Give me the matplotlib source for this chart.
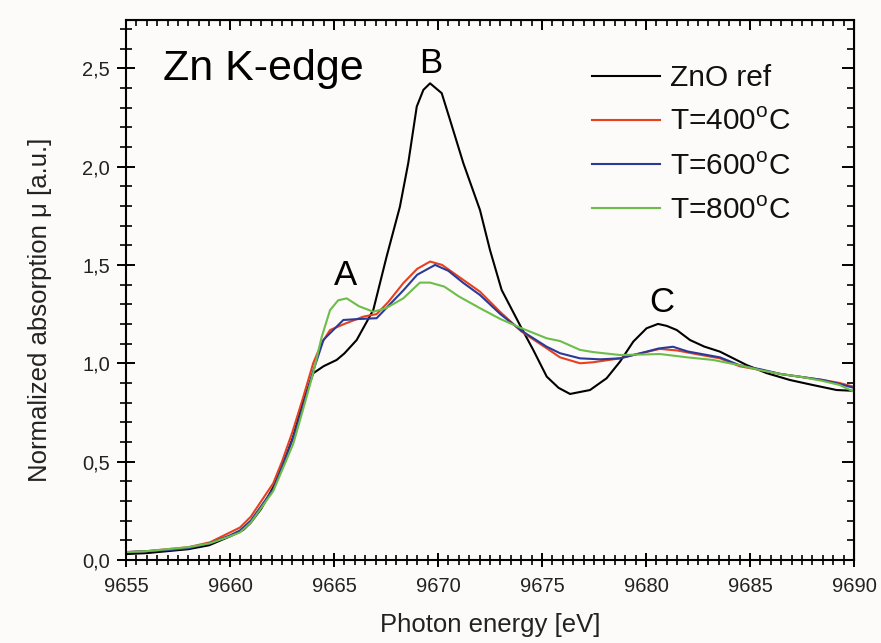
import matplotlib
matplotlib.use("Agg")
import matplotlib.pyplot as plt
from matplotlib.ticker import MultipleLocator, FuncFormatter

plt.rcParams['font.family'] = ['Liberation Sans', 'DejaVu Sans']
plt.rcParams['mathtext.fontset'] = 'custom'
plt.rcParams['mathtext.rm'] = 'Liberation Sans'

# values
e_ref = [9655, 9656, 9657, 9658, 9659, 9660, 9660.64, 9661, 9661.5, 9662.08, 9662.5, 9663.04,
         9663.5, 9664.0, 9664.5, 9665.13, 9665.5, 9666.09, 9666.89, 9667.53, 9668.17, 9668.57,
         9668.98, 9669.3, 9669.62, 9670.18, 9670.58, 9671.22, 9672.02, 9672.5, 9673.06, 9674.02,
         9674.58, 9675.23, 9675.8, 9676.35, 9677.31, 9678.11, 9678.75, 9679.39, 9680.03, 9680.58,
         9681.0, 9681.48, 9682.12, 9682.8, 9683.56, 9684.2, 9684.84, 9685.8, 9686.92, 9688.0,
         9689.17, 9690]
mu_ref = [0.03, 0.035, 0.045, 0.055, 0.075, 0.12, 0.153, 0.19, 0.26, 0.37, 0.47, 0.627,
          0.80, 0.949, 0.985, 1.017, 1.05, 1.118, 1.271, 1.542, 1.796, 2.017,
          2.305, 2.39, 2.423, 2.373, 2.237, 2.017, 1.779, 1.576, 1.373, 1.178,
          1.068, 0.932, 0.875, 0.844, 0.864, 0.924, 1.008, 1.11, 1.178, 1.20,
          1.19, 1.169, 1.118, 1.085, 1.059, 1.025, 0.991, 0.95, 0.915, 0.89,
          0.864, 0.86]

e_400 = [9655, 9656, 9657, 9658, 9659.04, 9660, 9660.48, 9661, 9662.08, 9662.5, 9663, 9663.5,
         9664.0, 9664.4, 9664.81, 9665.5, 9666.41, 9667.05, 9667.6, 9668.33, 9669.0, 9669.62,
         9670.2, 9671.0, 9672.02, 9673.0, 9674.02, 9675.23, 9675.87, 9676.83, 9677.45, 9678.75,
         9679.5, 9680.67, 9681.5, 9682.5, 9683.56, 9684.5, 9685.48, 9686.5, 9687.5, 9688.5,
         9689.3, 9690]
mu_400 = [0.04, 0.045, 0.055, 0.065, 0.09, 0.14, 0.165, 0.22, 0.39, 0.5, 0.65, 0.82,
          1.0, 1.1, 1.169, 1.2, 1.237, 1.25, 1.31, 1.407, 1.48, 1.517,
          1.50, 1.44, 1.364, 1.26, 1.161, 1.076, 1.03, 1.0, 1.005, 1.025,
          1.045, 1.073, 1.065, 1.045, 1.025, 0.985, 0.966, 0.945, 0.93, 0.915,
          0.90, 0.88]

e_600 = [9655, 9656, 9657, 9658, 9659.04, 9660, 9660.48, 9661, 9662.08, 9663, 9663.5, 9664.0,
         9664.5, 9665.45, 9666.2, 9667.05, 9667.6, 9668.33, 9669.0, 9669.86, 9670.5, 9671.2,
         9672.02, 9673.0, 9674.02, 9675.23, 9675.87, 9676.83, 9677.8, 9678.75, 9679.7, 9680.6,
         9681.3, 9682.0, 9683.56, 9684.5, 9685.48, 9686.5, 9687.5, 9688.5, 9689.3, 9690]
mu_600 = [0.04, 0.045, 0.05, 0.06, 0.085, 0.125, 0.15, 0.2, 0.36, 0.61, 0.78, 0.96,
          1.12, 1.22, 1.225, 1.229, 1.29, 1.37, 1.45, 1.50, 1.47, 1.41,
          1.347, 1.25, 1.165, 1.084, 1.051, 1.025, 1.02, 1.025, 1.05, 1.075,
          1.084, 1.06, 1.03, 0.99, 0.97, 0.945, 0.93, 0.915, 0.895, 0.875]

e_800 = [9655, 9656, 9657, 9658, 9659.04, 9660, 9660.48, 9661, 9662.08, 9663.04, 9663.5, 9664.0,
         9664.4, 9664.81, 9665.2, 9665.61, 9666.2, 9666.89, 9667.5, 9668.33, 9669.13, 9669.62,
         9670.3, 9671.0, 9672.02, 9673.0, 9674.02, 9675.23, 9675.87, 9676.83, 9677.45, 9678.75,
         9680.0, 9680.67, 9682.0, 9683.22, 9684.5, 9685.5, 9686.5, 9687.5, 9688.5, 9689.3,
         9690]
mu_800 = [0.04, 0.045, 0.055, 0.065, 0.085, 0.12, 0.14, 0.19, 0.35, 0.59, 0.76, 0.95,
          1.13, 1.27, 1.32, 1.33, 1.29, 1.262, 1.28, 1.33, 1.41, 1.41,
          1.39, 1.34, 1.28, 1.225, 1.178, 1.127, 1.113, 1.068, 1.057, 1.042,
          1.045, 1.047, 1.03, 1.017, 0.99, 0.965, 0.945, 0.93, 0.91, 0.89,
          0.855]

bg = '#fcfbf9'
fig = plt.figure(figsize=(8.81, 6.43), dpi=100, facecolor=bg)
ax = fig.add_axes([0.1430, 0.1291, 0.8263, 0.8398], facecolor=bg)

lw = 1.5
ax.plot(e_ref, mu_ref, color='black', lw=lw, label='ZnO ref')
ax.plot(e_400, mu_400, color='#e8401e', lw=lw, label='T=400$^{\\mathrm{o}}$C')
ax.plot(e_600, mu_600, color='#2b3a98', lw=lw, label='T=600$^{\\mathrm{o}}$C')
ax.plot(e_800, mu_800, color='#6cbd4a', lw=lw, label='T=800$^{\\mathrm{o}}$C')

ax.set_xlim(9655, 9690)
ax.set_ylim(0, 2.745)
ax.xaxis.set_major_locator(MultipleLocator(5))
ax.xaxis.set_minor_locator(MultipleLocator(0.5))
ax.yaxis.set_major_locator(MultipleLocator(0.5))
ax.yaxis.set_minor_locator(MultipleLocator(0.1))
ax.yaxis.set_major_formatter(FuncFormatter(lambda v, p: f'{v:.1f}'.replace('.', ',')))
ax.xaxis.set_major_formatter(FuncFormatter(lambda v, p: f'{v:.0f}'))

for s in ax.spines.values():
    s.set_linewidth(1.5)
ax.tick_params(axis='y', which='major', direction='inout', length=13, width=1.4,
               labelsize=14.5, labelcolor='#222222', pad=5)
ax.tick_params(axis='x', which='major', direction='inout', length=10.5, width=1.4,
               labelsize=14.5, labelcolor='#222222', pad=7)
ax.tick_params(axis='y', which='minor', direction='inout', length=8, width=1.2)
ax.tick_params(axis='x', which='minor', direction='inout', length=7, width=1.2)

# inward ticks on top and right
sx = ax.secondary_xaxis('top')
sx.xaxis.set_major_locator(MultipleLocator(5))
sx.xaxis.set_minor_locator(MultipleLocator(0.5))
sx.tick_params(which='major', direction='in', length=7.5, width=1.4, labeltop=False)
sx.tick_params(which='minor', direction='in', length=4, width=1.2)
sy = ax.secondary_yaxis('right')
sy.yaxis.set_major_locator(MultipleLocator(0.5))
sy.yaxis.set_minor_locator(MultipleLocator(0.1))
sy.tick_params(which='major', direction='in', length=8.5, width=1.4, labelright=False)
sy.tick_params(which='minor', direction='in', length=5, width=1.2)

ax.set_xlabel('Photon energy [eV]', fontsize=18.5, color='#222222')
ax.set_ylabel('Normalized absorption \u03bc [a.u.]', fontsize=18.5, color='#222222')
ax.xaxis.set_label_coords(0.5, -0.098)
ax.yaxis.set_label_coords(-0.102, 0.463)

ax.text(9656.78, 2.44, 'Zn K-edge', fontsize=31, ha='left', va='baseline')
ax.text(9669.65, 2.474, 'B', fontsize=25, ha='center', va='baseline')
ax.text(9665.56, 1.398, 'A', fontsize=25, ha='center', va='baseline')
ax.text(9680.75, 1.259, 'C', fontsize=25, ha='center', va='baseline')

leg = ax.legend(loc='upper left', bbox_to_anchor=(0.640, 0.918), frameon=False,
                fontsize=21.5, handlelength=2.27, handletextpad=0.33, labelspacing=0.54,
                borderpad=0, borderaxespad=0)
for t in leg.get_texts():
    t.set_color('#111111')

fig.savefig('out.png', dpi=100, facecolor=bg)
